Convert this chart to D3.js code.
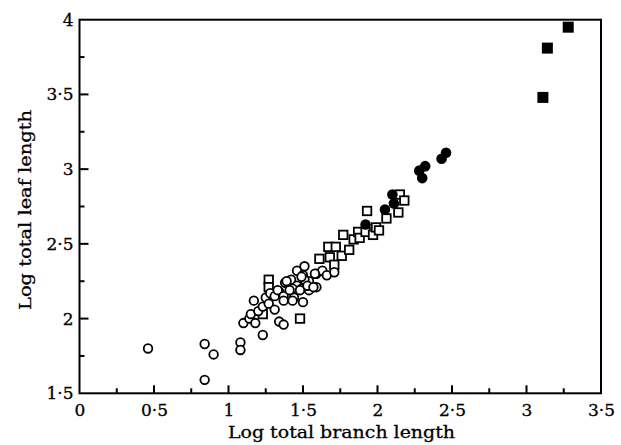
<!DOCTYPE html>
<html>
<head>
<meta charset="utf-8">
<script src="https://cdn.jsdelivr.net/npm/d3@7"></script>
<style>
  html, body { margin: 0; padding: 0; background: #fff; }
  svg { display: block; }
  text { font-family: "DejaVu Serif", "Liberation Serif", serif; fill: #000; }
</style>
</head>
<body>
<svg id="chart" width="621" height="445"></svg>
<script>
// Data (log total branch length, log total leaf length)
const openCircles = [
  [0.46,1.80],[0.84,1.83],[0.90,1.76],[0.84,1.59],[1.08,1.84],[1.08,1.79],
  [1.10,1.97],[1.14,2.00],[1.18,1.97],[1.23,1.89],[1.17,2.12],[1.15,2.03],
  [1.20,2.05],[1.23,2.08],[1.25,2.14],[1.27,2.10],[1.29,2.16],[1.31,2.06],
  [1.34,1.98],[1.37,1.96],[1.34,2.18],[1.28,2.17],[1.31,2.15],[1.33,2.19],
  [1.37,2.15],[1.38,2.24],[1.42,2.26],[1.44,2.14],[1.46,2.22],[1.46,2.32],
  [1.43,2.20],[1.49,2.20],[1.50,2.29],[1.50,2.11],[1.54,2.25],[1.54,2.19],
  [1.59,2.21],[1.59,2.30],[1.63,2.32],[1.66,2.29],[1.71,2.31],[1.39,2.25],
  [1.41,2.19],[1.48,2.19],[1.43,2.12],[1.51,2.26],[1.53,2.22],[1.49,2.28],
  [1.57,2.21],[1.51,2.35],[1.58,2.30],[1.37,2.12]
];
const openSquares = [
  [1.23,2.03],[1.27,2.26],[1.27,2.21],[1.48,2.00],[1.61,2.40],[1.68,2.41],
  [1.67,2.48],[1.72,2.48],[1.76,2.42],[1.81,2.46],[1.77,2.56],[1.84,2.53],
  [1.87,2.58],[1.88,2.54],[1.92,2.58],[1.97,2.56],[1.99,2.61],[1.93,2.72],
  [2.06,2.67],[2.14,2.71],[2.15,2.83],[2.18,2.79],[2.01,2.59],[1.71,2.36]
];
const filledCircles = [
  [1.92,2.63],[2.05,2.73],[2.11,2.77],[2.10,2.83],[2.28,2.99],[2.32,3.02],
  [2.30,2.94],[2.43,3.07],[2.46,3.11]
];
const filledSquares = [
  [3.28,3.95],[3.14,3.81],[3.11,3.48]
];
const xTicks = [0,0.5,1,1.5,2,2.5,3,3.5];
const yTicks = [1.5,2,2.5,3,3.5,4];
const xMinor = [0.25,0.75,1.25,1.75,2.25,2.75,3.25];
const yMinor = [1.75,2.25,2.75,3.25,3.75];
const xTitle = "Log total branch length";
const yTitle = "Log total leaf length";

const fmt = d => String(d).replace(".", "\u00B7");

const svg = d3.select("#chart");
const mLeft = 79.5, mRight = 601, mTop = 19.7, mBottom = 393.3;
const x = d3.scaleLinear().domain([0, 3.5]).range([mLeft, mRight]);
const y = d3.scaleLinear().domain([1.5, 4]).range([mBottom, mTop]);

// Frame
svg.append("rect")
  .attr("x", mLeft).attr("y", mTop)
  .attr("width", mRight - mLeft).attr("height", mBottom - mTop)
  .attr("fill", "none").attr("stroke", "#000").attr("stroke-width", 2);

// Tick marks (inward)
const tg = svg.append("g").attr("stroke", "#000").attr("stroke-width", 2);
tg.selectAll("line.xmaj").data(xTicks.filter(d => d > 0 && d < 3.5)).join("line")
  .attr("class", "xmaj")
  .attr("x1", d => x(d)).attr("x2", d => x(d))
  .attr("y1", mBottom).attr("y2", mBottom - 8);
tg.selectAll("line.xmin").data(xMinor).join("line")
  .attr("class", "xmin")
  .attr("x1", d => x(d)).attr("x2", d => x(d))
  .attr("y1", mBottom).attr("y2", mBottom - 5);
tg.selectAll("line.ymaj").data(yTicks.filter(d => d > 1.5 && d < 4)).join("line")
  .attr("class", "ymaj")
  .attr("x1", mLeft).attr("x2", mLeft + 9)
  .attr("y1", d => y(d)).attr("y2", d => y(d));
tg.selectAll("line.ymin").data(yMinor).join("line")
  .attr("class", "ymin")
  .attr("x1", mLeft).attr("x2", mLeft + 5)
  .attr("y1", d => y(d)).attr("y2", d => y(d));

function styleLabels(g) {
  g.select(".domain").remove();
  g.selectAll(".tick line").remove();
  g.selectAll(".tick text").attr("font-size", 17).attr("font-family", "DejaVu Serif")
    .attr("fill", "#000").attr("stroke", "#000").attr("stroke-width", 0.3);
}

// Tick labels via d3 axes
svg.append("g").attr("transform", `translate(0,${mBottom})`)
  .call(d3.axisBottom(x).tickValues(xTicks).tickSize(0).tickPadding(11).tickFormat(fmt))
  .call(styleLabels);
svg.append("g").attr("transform", `translate(${mLeft},0)`)
  .call(d3.axisLeft(y).tickValues(yTicks).tickSize(0).tickPadding(6).tickFormat(fmt))
  .call(styleLabels);

// Titles
svg.append("text").attr("x", (228 + 455) / 2).attr("y", 438)
  .attr("text-anchor", "middle").attr("font-size", 17.5)
  .attr("textLength", 227).attr("lengthAdjust", "spacingAndGlyphs")
  .attr("stroke", "#000").attr("stroke-width", 0.3)
  .text(xTitle);
svg.append("text").attr("transform", `translate(31,210) rotate(-90)`)
  .attr("text-anchor", "middle").attr("font-size", 17.5)
  .attr("textLength", 200).attr("lengthAdjust", "spacingAndGlyphs")
  .attr("stroke", "#000").attr("stroke-width", 0.3)
  .text(yTitle);

// Marks
const r = 4.3, sq = 8.5, fsq = 11;
svg.append("g").selectAll("rect").data(openSquares).join("rect")
  .attr("x", d => x(d[0]) - sq / 2).attr("y", d => y(d[1]) - sq / 2)
  .attr("width", sq).attr("height", sq)
  .attr("fill", "#fff").attr("stroke", "#000").attr("stroke-width", 1.8);
svg.append("g").selectAll("circle").data(openCircles).join("circle")
  .attr("cx", d => x(d[0])).attr("cy", d => y(d[1])).attr("r", r)
  .attr("fill", "#fff").attr("stroke", "#000").attr("stroke-width", 1.8);
svg.append("g").selectAll("circle").data(filledCircles).join("circle")
  .attr("cx", d => x(d[0])).attr("cy", d => y(d[1])).attr("r", 5.3)
  .attr("fill", "#000");
svg.append("g").selectAll("rect").data(filledSquares).join("rect")
  .attr("x", d => x(d[0]) - fsq / 2).attr("y", d => y(d[1]) - fsq / 2)
  .attr("width", fsq).attr("height", fsq).attr("fill", "#000");
</script>
</body>
</html>
